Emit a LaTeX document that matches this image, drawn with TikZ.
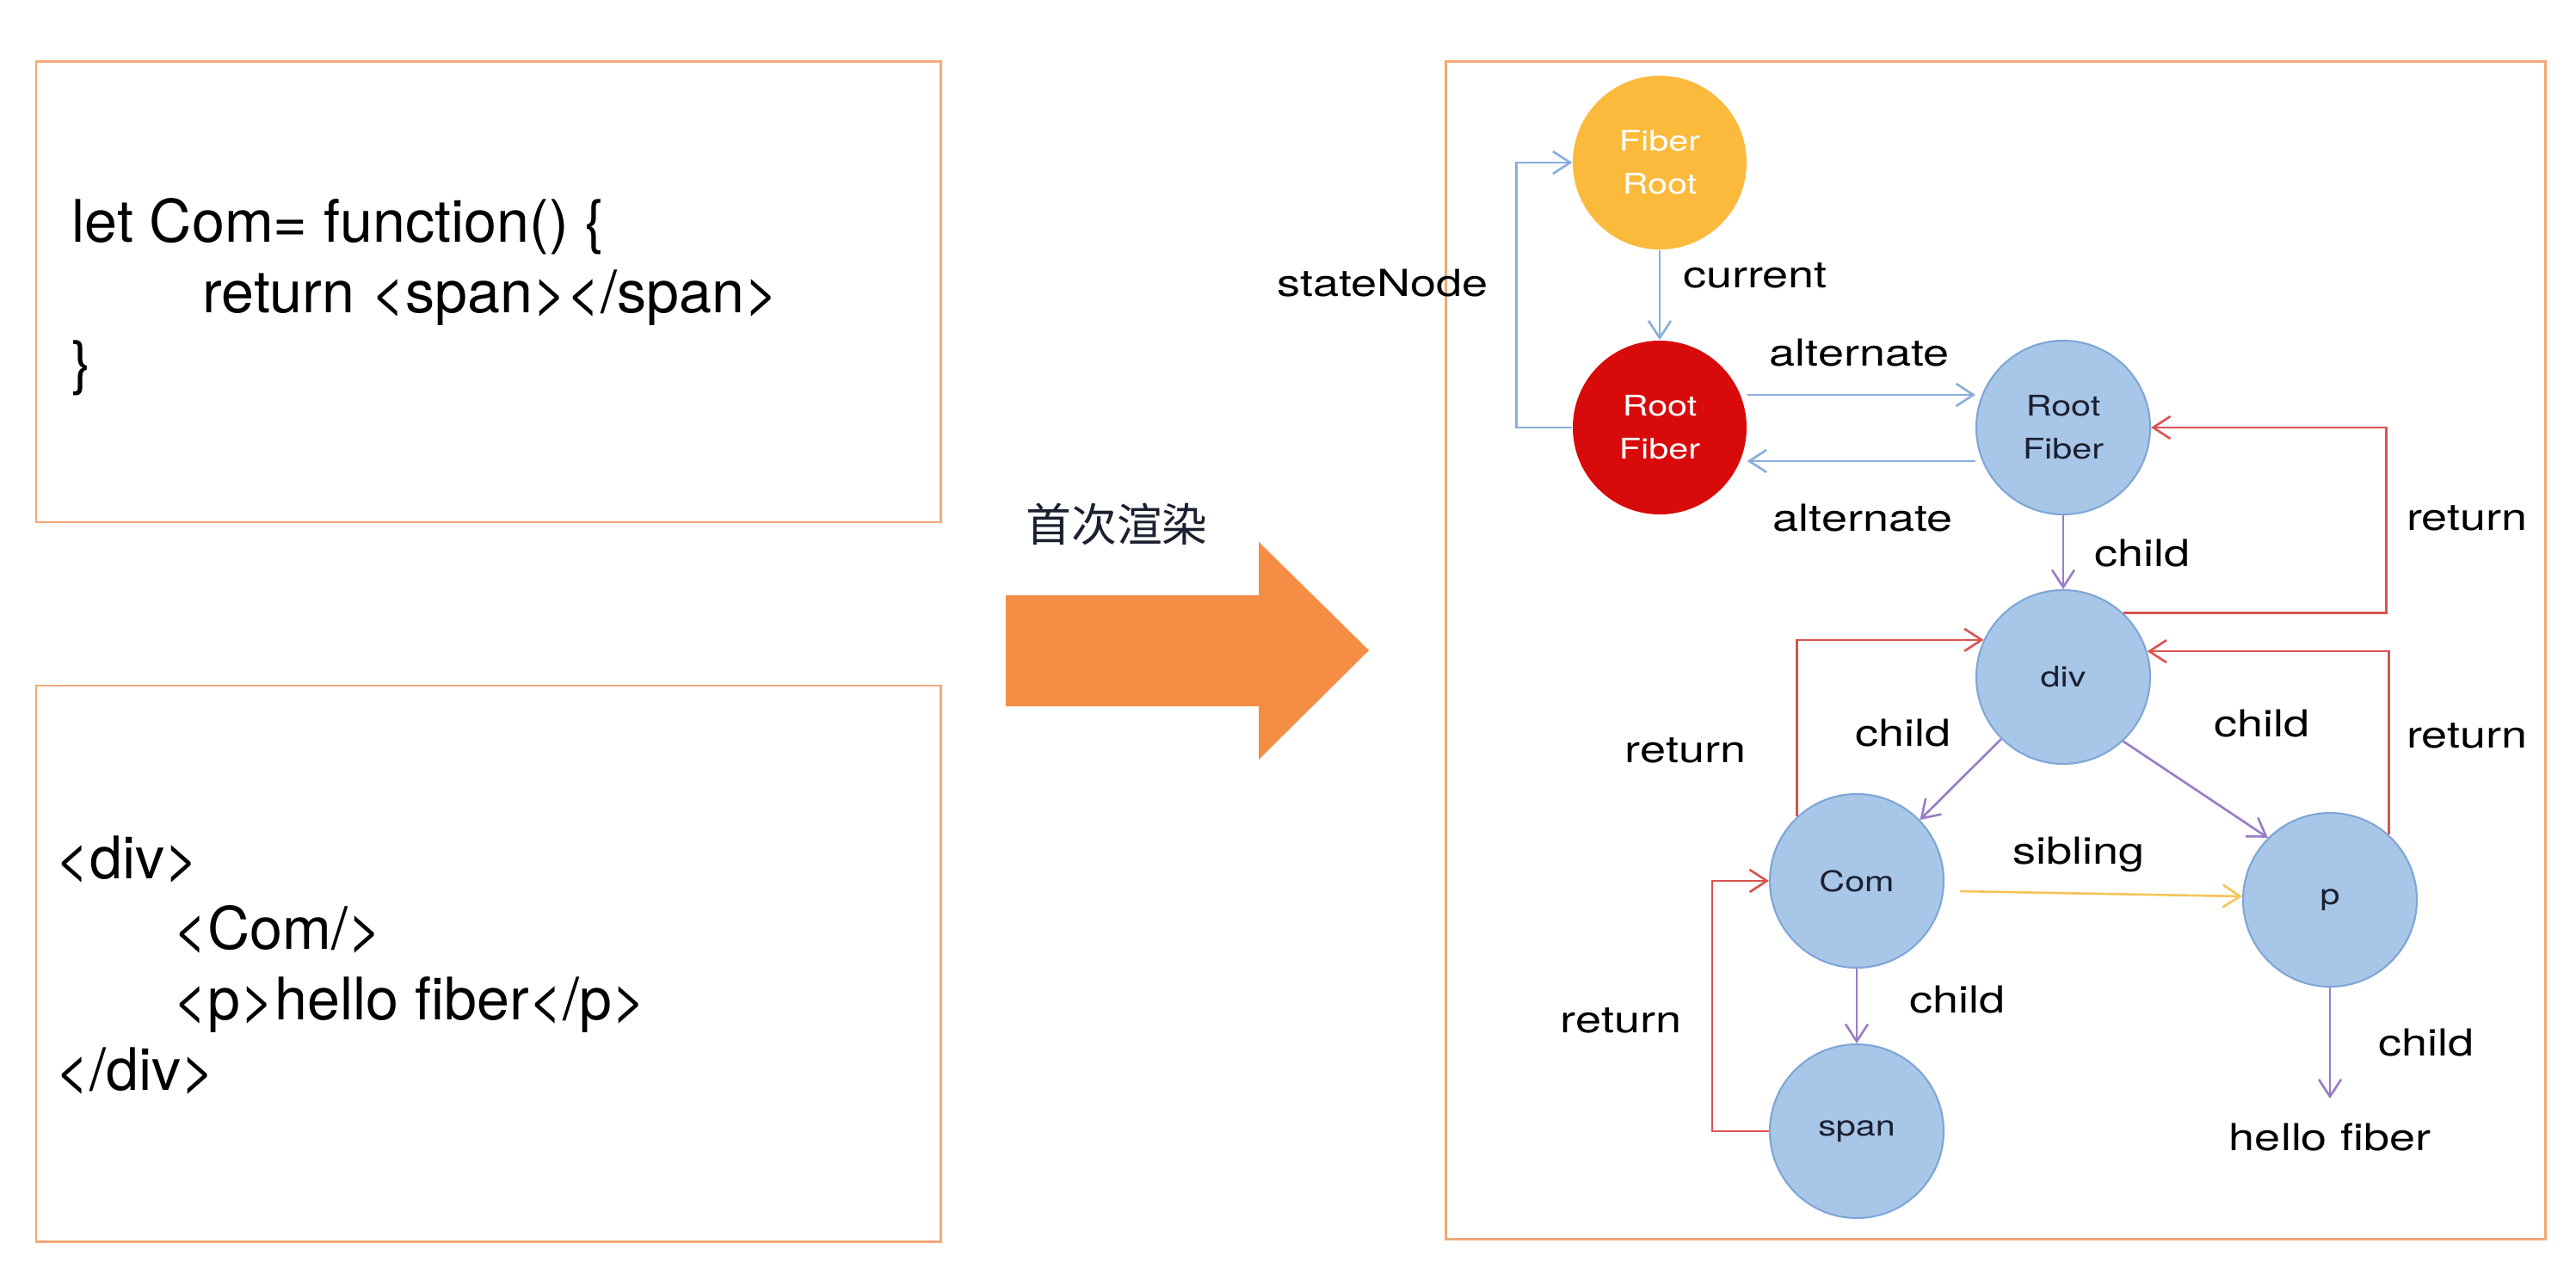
\documentclass[tikz,border=0pt]{standalone}
\usepackage{fontspec}
\setmainfont{TeX Gyre Heros}
\newfontfamily\labfont[FakeStretch=1.25]{TeX Gyre Heros}
\newfontfamily\cjk{Noto Sans CJK SC}
\usetikzlibrary{arrows.meta}
\definecolor{frame}{HTML}{F2A878}
\definecolor{bigarrow}{HTML}{F68D45}
\definecolor{goldfill}{HTML}{FBBA3B}
\definecolor{redfill}{HTML}{D90A0A}
\definecolor{bluefill}{HTML}{A8C6E8}
\definecolor{blueline}{HTML}{7EA6D6}
\definecolor{altblue}{HTML}{88AEDB}
\definecolor{retred}{HTML}{D9544F}
\definecolor{kidpurple}{HTML}{9A7CC6}
\definecolor{sibyellow}{HTML}{F5C45A}
\definecolor{ink}{HTML}{1B2030}
\tikzset{
  panel/.style={draw=frame, line width=0.85pt},
  code/.style={anchor=base west, inner sep=0pt, text=black, font=\fontsize{19.4pt}{23pt}\selectfont},
  fiber/.style={circle, minimum size=2.02cm, inner sep=0pt, align=center,
    font=\labfont\fontsize{9.4pt}{14.2pt}\selectfont},
  wip/.style={fiber, fill=bluefill, draw=blueline, line width=0.6pt, text=ink},
  lab/.style={text=black, font=\labfont\fontsize{12.3pt}{14pt}\selectfont},
  link/.style={line width=0.75pt, -{Straight Barb[length=2mm, width=2.6mm]}},
  alt/.style={link, draw=altblue},
  ret/.style={link, draw=retred},
  kid/.style={link, draw=kidpurple},
  sib/.style={link, draw=sibyellow},
}
\begin{document}
\begin{tikzpicture}
  \useasboundingbox[fill=white] (0,0) rectangle (29.94,14.80);

  % source code panels
  \draw[panel] (0.42,8.73) rectangle (10.93,14.08);
  \draw[panel] (0.42,0.37) rectangle (10.93,6.83);
  \node[code] (comdef) at (0.83,11.98) {let Com= function() \{};
  \node[code] (comret) at (2.35,11.16) {return <span></span>};
  \node[code] (comend) at (0.83,10.34) {\}};
  \node[code] (divopen) at (0.64,4.59) {<div>};
  \node[code] (comtag) at (2.01,3.77) {<Com/>};
  \node[code] (ptag) at (2.01,2.95) {<p>hello fiber</p>};
  \node[code] (divclose) at (0.64,2.13) {</div>};

  % first render
  \fill[bigarrow] (11.69,6.59) -- (14.63,6.59) -- (14.63,5.97) -- (15.91,7.24)
    -- (14.63,8.50) -- (14.63,7.88) -- (11.69,7.88) -- cycle;
  \node[text=ink, font=\cjk\fontsize{15pt}{18pt}\selectfont] (firstrender) at (12.98,8.71) {首次渲染};

  % fiber tree
  \draw[panel] (16.80,0.40) rectangle (29.58,14.08);
  \node[fiber, fill=goldfill, text=white] (fiberroot) at (19.29,12.91) {Fiber\\Root};
  \node[fiber, fill=redfill, text=white] (curroot) at (19.29,9.83) {Root\\Fiber};
  \node[wip] (wiproot) at (23.98,9.83) {Root\\Fiber};
  \node[wip] (div) at (23.98,6.93) {div};
  \node[wip] (com) at (21.58,4.56) {Com};
  \node[wip] (p) at (27.08,4.34) {p};
  \node[wip] (span) at (21.58,1.65) {span};
  \node[lab, inner sep=2.8mm] (hello) at (27.08,1.58) {hello fiber};

  \draw[alt] (curroot.west) -- ++(-0.65,0) |- (fiberroot.west);
  \draw[alt] (fiberroot.south) -- (curroot.north);
  \draw[alt] ([yshift=3.8mm]curroot.east) -- ([yshift=3.8mm]wiproot.west);
  \draw[alt] ([yshift=-3.9mm]wiproot.west) -- ([yshift=-3.9mm]curroot.east);
  \draw[kid] (wiproot.south) -- (div.north);
  \draw[ret] (div.47) -- ++(3.06,0) |- (wiproot.east);
  \draw[kid] (div.225) -- (com.44);
  \draw[kid] (div.313) -- (p.135);
  \draw[ret] (com.133) |- (div.155);
  \draw[ret] (p.48) |- (div.17);
  \draw[sib] ([xshift=1.8mm,yshift=-1.2mm]com.east) -- ([yshift=0.4mm]p.west);
  \draw[kid] (com.south) -- (span.north);
  \draw[ret] (span.west) -- ++(-0.66,0) |- (com.west);
  \draw[kid] (p.south) -- (hello.north);

  \node[lab] (lstate) at (16.07,11.51) {stateNode};
  \node[lab] (lcurrent) at (20.40,11.60) {current};
  \node[lab] (lalttop) at (21.61,10.70) {alternate};
  \node[lab] (laltbot) at (21.65,8.78) {alternate};
  \node[lab] (lretroot) at (28.67,8.78) {return};
  \node[lab] (lkiddiv) at (24.90,8.37) {child};
  \node[lab] (lretcom) at (19.59,6.08) {return};
  \node[lab] (lkidcom) at (22.12,6.28) {child};
  \node[lab] (lkidp) at (26.29,6.39) {child};
  \node[lab] (lretp) at (28.67,6.25) {return};
  \node[lab] (lsib) at (24.16,4.87) {sibling};
  \node[lab] (lkidspan) at (22.75,3.18) {child};
  \node[lab] (lretspan) at (18.84,2.94) {return};
  \node[lab] (lkidhello) at (28.20,2.68) {child};
\end{tikzpicture}
\end{document}
